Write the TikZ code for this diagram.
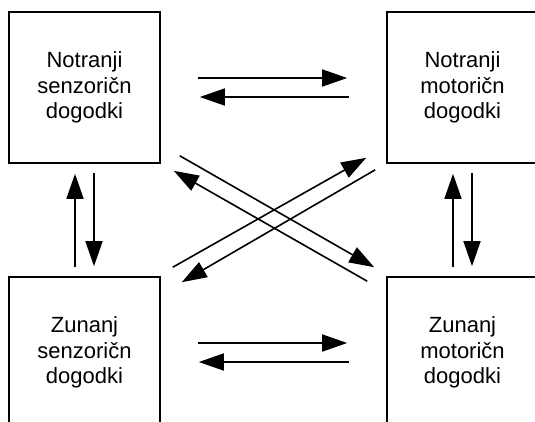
\documentclass[tikz,border=0pt]{standalone}
\usepackage{fontspec}
\setmainfont{Liberation Sans}
\usetikzlibrary{arrows.meta}

\tikzset{
  dogodek/.style={draw, line width=1.6pt, minimum width=151pt, minimum height=151pt,
    inner sep=0pt, align=center, font=\fontsize{22}{25.5}\selectfont},
  pusica/.style={line width=1.6pt, -{Triangle[length=25pt,width=17pt]}}
}

\begin{document}
\begin{tikzpicture}[x=1pt,y=-1pt]
	%%%%% START %%%%%
	\def\w{535}
	\def\h{421}
	\def\d{9.5}
	\useasboundingbox (0,0) rectangle (\w,\h);
	\clip (0,0) rectangle (\w,\h);

	% the four kinds of events
	\node[dogodek] (ns) at (84.5,87.5)  {Notranji\\senzoričn\\dogodki};
	\node[dogodek] (nm) at (462.5,87.5) {Notranji\\motoričn\\dogodki};
	\node[dogodek] (zs) at (84.5,352.5) {Zunanj\\senzoričn\\dogodki};
	\node[dogodek] (zm) at (462.5,352.5) {Zunanj\\motoričn\\dogodki};

	% horizontal pairs
	\draw[pusica] ([shift={(37,-\d)}]ns.east) -- ([shift={(-39,-\d)}]nm.west);
	\draw[pusica] ([shift={(-37,\d)}]nm.west) -- ([shift={(39,\d)}]ns.east);
	\draw[pusica] ([shift={(37,-\d)}]zs.east) -- ([shift={(-39,-\d)}]zm.west);
	\draw[pusica] ([shift={(-37,\d)}]zm.west) -- ([shift={(38,\d)}]zs.east);

	% vertical pairs
	\draw[pusica] ([shift={(-\d,-9)}]zs.north) -- ([shift={(-\d,10)}]ns.south);
	\draw[pusica] ([shift={(\d,9)}]ns.south) -- ([shift={(\d,-10)}]zs.north);
	\draw[pusica] ([shift={(-\d,-9)}]zm.north) -- ([shift={(-\d,10)}]nm.south);
	\draw[pusica] ([shift={(\d,9)}]nm.south) -- ([shift={(\d,-10)}]zm.north);

	% crossing diagonals
	\draw[pusica] ([shift={(19,-8)}]ns.south east) -- ([shift={(-12,-9)}]zm.north west);
	\draw[pusica] ([shift={(-19,5)}]zm.north west) -- ([shift={(13,7)}]ns.south east);
	\draw[pusica] ([shift={(12,-9)}]zs.north east) -- ([shift={(-20,-6)}]nm.south west);
	\draw[pusica] ([shift={(-11,6)}]nm.south west) -- ([shift={(21,6)}]zs.north east);
	%%%%% END %%%%%
\end{tikzpicture}
\end{document}
